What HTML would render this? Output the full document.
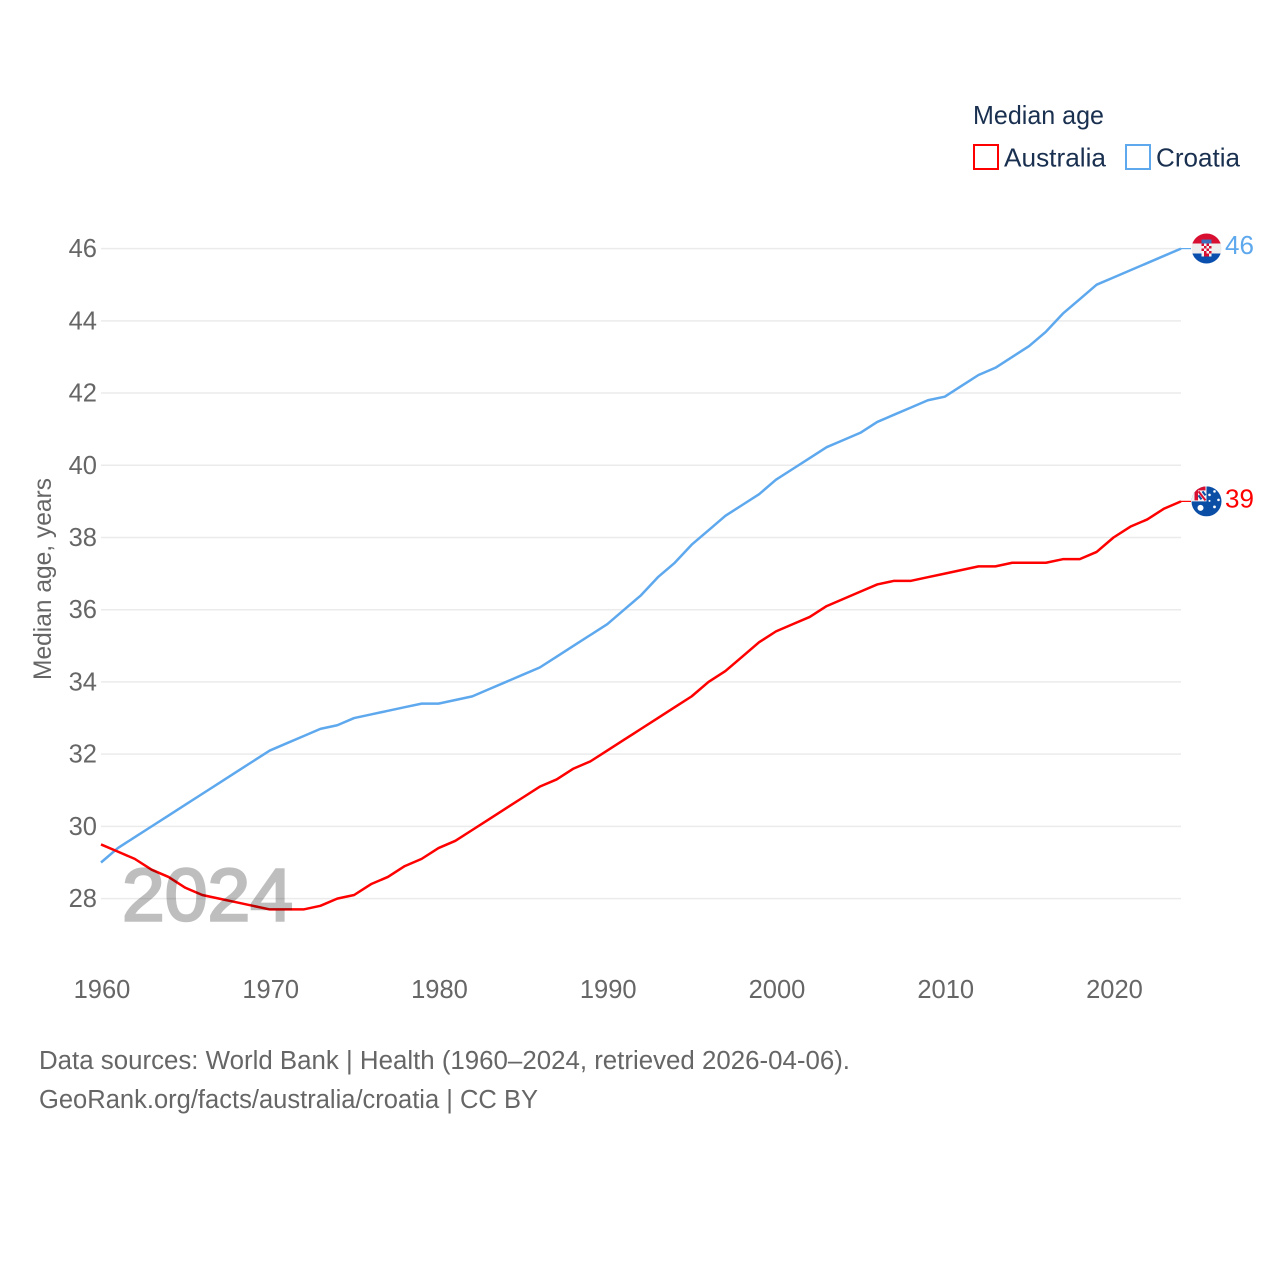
<!DOCTYPE html>
<html lang="en">
<head>
<meta charset="utf-8">
<title>Median age: Australia and Croatia</title>
<style>
html,body{margin:0;padding:0;background:#fff}
svg{display:block;font-family:"Liberation Sans",sans-serif}
</style>
</head>
<body>
<svg id="chart" xmlns="http://www.w3.org/2000/svg" width="1280" height="1280" viewBox="0 0 1280 1280">
  <rect width="1280" height="1280" fill="#fff"/>
  <g id="grid"></g>
  <g id="yticks"></g>
  <g id="xticks"></g>
  <text transform="translate(51,680) rotate(-90)" font-size="25" fill="#666" textLength="202" lengthAdjust="spacingAndGlyphs">Median age, years</text>
  <g id="series"></g>
  <text x="122" y="920.500" font-size="74" font-weight="400" fill="#000" stroke="#000" stroke-width="2.500" opacity="0.25" textLength="171" lengthAdjust="spacingAndGlyphs">2024</text>

  <g>
    <text x="973" y="124" font-size="26" fill="#1a3050" textLength="131" lengthAdjust="spacingAndGlyphs">Median age</text>
    <rect x="974" y="145" width="24" height="24" fill="#fff" stroke="#ff0000" stroke-width="2"/>
    <text x="1004" y="166.500" font-size="26" fill="#1a3050" textLength="102" lengthAdjust="spacingAndGlyphs">Australia</text>
    <rect x="1126" y="145" width="24" height="24" fill="#fff" stroke="#5ea8ee" stroke-width="2"/>
    <text x="1156" y="166.500" font-size="26" fill="#1a3050" textLength="84" lengthAdjust="spacingAndGlyphs">Croatia</text>
  </g>

  <defs>
    <clipPath id="flag-clip"><circle cx="0" cy="0" r="15"/></clipPath>
  </defs>
  <g id="flag-croatia" clip-path="url(#flag-clip)">
    <rect x="-15" y="-15" width="30" height="10" fill="#d80f31"/>
    <rect x="-15" y="-5" width="30" height="10" fill="#eeeeee"/>
    <rect x="-15" y="5" width="30" height="10" fill="#0a4fae"/>
    <rect x="-5" y="-9" width="10" height="4" fill="#3a70bd"/>
    <rect x="-5" y="-5" width="10" height="13" fill="#f4f4f4"/>
    <rect x="-5" y="-5" width="2.500" height="2.500" fill="#d80f31"/>
    <rect x="0" y="-5" width="2.500" height="2.500" fill="#d80f31"/>
    <rect x="-2.500" y="-2.500" width="2.500" height="2.500" fill="#d80f31"/>
    <rect x="2.500" y="-2.500" width="2.500" height="2.500" fill="#d80f31"/>
    <rect x="-5" y="0" width="2.500" height="2.500" fill="#d80f31"/>
    <rect x="0" y="0" width="2.500" height="2.500" fill="#d80f31"/>
    <rect x="-2.500" y="2.500" width="2.500" height="2.500" fill="#d80f31"/>
    <rect x="2.500" y="2.500" width="2.500" height="2.500" fill="#d80f31"/>
    <rect x="-2.500" y="5" width="5" height="3" fill="#d80f31"/>
  </g>
  <g id="flag-australia" clip-path="url(#flag-clip)">
    <rect x="-15" y="-15" width="30" height="30" fill="#0b4ea6"/>
    <rect x="-15" y="-15" width="15" height="15" fill="#f2f2f2"/>
    <rect x="-12" y="-15" width="11" height="4" fill="#d80f31"/>
    <rect x="-12" y="-15" width="3.500" height="14" fill="#d80f31"/>
    <path d="M-8,-10 L-1,-1" stroke="#d80f31" stroke-width="2" fill="none"/>
    <path d="M-8,-6 L-5,-2 M-4,-10 L-1,-6" stroke="#0b4ea6" stroke-width="2" fill="none"/>
    <circle cx="-6" cy="6.500" r="3" fill="#fff"/>
    <circle cx="3" cy="-6.500" r="1.300" fill="#fff"/>
    <circle cx="8" cy="-10" r="1.300" fill="#fff"/>
    <circle cx="12" cy="-1.500" r="1.300" fill="#fff"/>
    <circle cx="8" cy="5.500" r="1.400" fill="#fff"/>
    <circle cx="3" cy="-0.500" r="1" fill="#fff"/>
  </g>
  <g id="end-labels"></g>

  <g>
    <text x="39" y="1069" font-size="25.500" fill="#666" textLength="811" lengthAdjust="spacingAndGlyphs">Data sources: World Bank | Health (1960–2024, retrieved 2026-04-06).</text>
    <text x="39" y="1108" font-size="25.500" fill="#666" textLength="499" lengthAdjust="spacingAndGlyphs">GeoRank.org/facts/australia/croatia | CC BY</text>
  </g>
</svg>
<script>
const years = [1960,1961,1962,1963,1964,1965,1966,1967,1968,1969,1970,1971,1972,1973,1974,1975,1976,1977,1978,1979,1980,1981,1982,1983,1984,1985,1986,1987,1988,1989,1990,1991,1992,1993,1994,1995,1996,1997,1998,1999,2000,2001,2002,2003,2004,2005,2006,2007,2008,2009,2010,2011,2012,2013,2014,2015,2016,2017,2018,2019,2020,2021,2022,2023,2024];
const australia = [29.5,29.3,29.1,28.8,28.6,28.3,28.1,28.0,27.9,27.8,27.7,27.7,27.7,27.8,28.0,28.1,28.4,28.6,28.9,29.1,29.4,29.6,29.9,30.2,30.5,30.8,31.1,31.3,31.6,31.8,32.1,32.4,32.7,33.0,33.3,33.6,34.0,34.3,34.7,35.1,35.4,35.6,35.8,36.1,36.3,36.5,36.7,36.8,36.8,36.9,37.0,37.1,37.2,37.2,37.3,37.3,37.3,37.4,37.4,37.6,38.0,38.3,38.5,38.8,39.0];
const croatia = [29.0,29.4,29.7,30.0,30.3,30.6,30.9,31.2,31.5,31.8,32.1,32.3,32.5,32.7,32.8,33.0,33.1,33.2,33.3,33.4,33.4,33.5,33.6,33.8,34.0,34.2,34.4,34.7,35.0,35.3,35.6,36.0,36.4,36.9,37.3,37.8,38.2,38.6,38.9,39.2,39.6,39.9,40.2,40.5,40.7,40.9,41.2,41.4,41.6,41.8,41.9,42.2,42.5,42.7,43.0,43.3,43.7,44.2,44.6,45.0,45.2,45.4,45.6,45.8,46.0];
const yTickValues = [28,30,32,34,36,38,40,42,44,46];
const xTickValues = [1960,1970,1980,1990,2000,2010,2020];

const NS = 'http://www.w3.org/2000/svg';
function xScale(year) { return 101 + (year - 1960) * (1181 - 101) / 64; }
function yScale(value) { return 898.6 - (value - 28) * (898.6 - 248.6) / 18; }
function create(tag, parentId) {
  const el = document.createElementNS(NS, tag);
  document.getElementById(parentId).appendChild(el);
  return el;
}

yTickValues.forEach(function (tick) {
  const line = create('line', 'grid');
  
  
  line.setAttribute('x1', xScale(1960));
  line.setAttribute('x2', xScale(2024));
  line.setAttribute('y1', yScale(tick));
  line.setAttribute('y2', yScale(tick));
  line.setAttribute('stroke', '#ebebeb');
  line.setAttribute('stroke-width', '1.500');

  const label = create('text', 'yticks');
  
  
  label.setAttribute('x', 97);
  label.setAttribute('y', yScale(tick) + 8.500);
  label.setAttribute('text-anchor', 'end');
  label.setAttribute('font-size', '25.500');
  label.setAttribute('fill', '#666');
  label.textContent = tick;
});

xTickValues.forEach(function (tick) {
  const label = create('text', 'xticks');
  
  
  label.setAttribute('x', xScale(tick) + 1);
  label.setAttribute('y', 998);
  label.setAttribute('text-anchor', 'middle');
  label.setAttribute('font-size', '25.500');
  label.setAttribute('fill', '#666');
  label.textContent = tick;
});

function pathFor(values) {
  return values.map(function (v, i) {
    return (i ? 'L' : 'M') + xScale(years[i]).toFixed(2) + ',' + yScale(v).toFixed(2);
  }).join(' ');
}

const lastYear = years[years.length - 1];
const lastCroatia = croatia[croatia.length - 1];
const lastAustralia = australia[australia.length - 1];

const croatiaLine = create('path', 'series');


croatiaLine.setAttribute('d', pathFor(croatia));
croatiaLine.setAttribute('fill', 'none');
croatiaLine.setAttribute('stroke', '#5ea8ee');
croatiaLine.setAttribute('stroke-width', '2.500');
croatiaLine.setAttribute('stroke-linejoin', 'round');

const croatiaConnector = create('line', 'series');


croatiaConnector.setAttribute('x1', xScale(lastYear));
croatiaConnector.setAttribute('x2', xScale(lastYear) + 10);
croatiaConnector.setAttribute('y1', yScale(lastCroatia));
croatiaConnector.setAttribute('y2', yScale(lastCroatia));
croatiaConnector.setAttribute('stroke', '#5ea8ee');
croatiaConnector.setAttribute('stroke-width', '1.200');

const australiaLine = create('path', 'series');


australiaLine.setAttribute('d', pathFor(australia));
australiaLine.setAttribute('fill', 'none');
australiaLine.setAttribute('stroke', '#ff0000');
australiaLine.setAttribute('stroke-width', '2.500');
australiaLine.setAttribute('stroke-linejoin', 'round');

const australiaConnector = create('line', 'series');


australiaConnector.setAttribute('x1', xScale(lastYear));
australiaConnector.setAttribute('x2', xScale(lastYear) + 10);
australiaConnector.setAttribute('y1', yScale(lastAustralia));
australiaConnector.setAttribute('y2', yScale(lastAustralia));
australiaConnector.setAttribute('stroke', '#ff0000');
australiaConnector.setAttribute('stroke-width', '1.200');

document.getElementById('flag-croatia').setAttribute('transform', 'translate(' + (xScale(lastYear) + 25.5) + ',' + (yScale(lastCroatia) - 0.1) + ')');
document.getElementById('flag-australia').setAttribute('transform', 'translate(' + (xScale(lastYear) + 25.5) + ',' + (yScale(lastAustralia)) + ')');

const croatiaEnd = create('text', 'end-labels');


croatiaEnd.setAttribute('x', xScale(lastYear) + 44);
croatiaEnd.setAttribute('y', yScale(lastCroatia) + 5.500);
croatiaEnd.setAttribute('font-size', '26');
croatiaEnd.setAttribute('fill', '#5ea8ee');
croatiaEnd.textContent = Math.round(lastCroatia);

const australiaEnd = create('text', 'end-labels');


australiaEnd.setAttribute('x', xScale(lastYear) + 44);
australiaEnd.setAttribute('y', yScale(lastAustralia) + 6);
australiaEnd.setAttribute('font-size', '26');
australiaEnd.setAttribute('fill', '#ff0000');
australiaEnd.textContent = Math.round(lastAustralia);
</script>
</body>
</html>
